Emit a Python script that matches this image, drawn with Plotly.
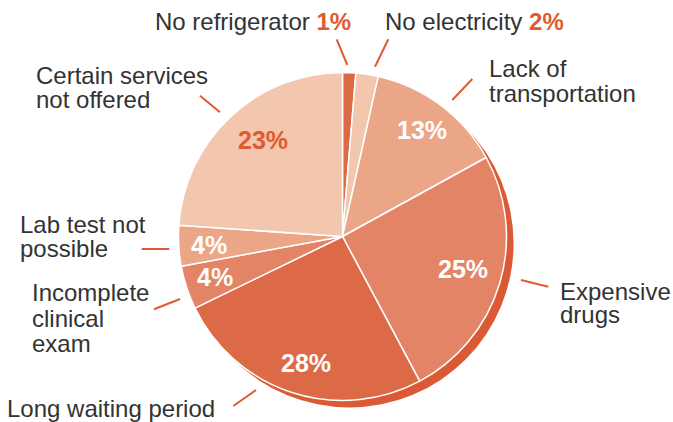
import math
import plotly.graph_objects as go

# ---------------- data ----------------
categories = ["No refrigerator", "No electricity", "Lack of transportation",
              "Expensive drugs", "Long waiting period", "Incomplete clinical exam",
              "Lab test not possible", "Certain services not offered"]
# slice shares as drawn in the picture (angles measured)
slice_share = [1.3, 2.2, 13.5, 25.2, 25.6, 4.3, 4.0, 23.9]
# printed percentages
pct_labels = ["1%", "2%", "13%", "25%", "28%", "4%", "4%", "23%"]

# ---------------- style ----------------
W, H = 673, 422
CX, CY, R = 342.5, 236.5, 164
SHADOW_DX, SHADOW_DY = 7, 7
slice_colors = ["#dd6a46", "#f3c6ae", "#eba587", "#e38467",
                "#dd6a46", "#e38467", "#eba587", "#f3c6ae"]
shadow_color = "#db5a35"
accent = "#e05a32"
text_color = "#333333"
FONT = "Liberation Sans, Arial, Helvetica, sans-serif"
inside_style = {  # index: (text colour, radial fraction, angle tweak in degrees)
    2: ("white", 0.81, 0), 3: ("white", 0.76, -1.5), 4: ("white", 0.80, -2),
    5: ("white", 0.815, 0.5), 6: ("white", 0.815, -0.4), 7: (accent, 0.76, 3.5),
}


def px(x):
    return x / W


def py(y):
    return 1 - y / H


def domain(dx=0, dy=0):
    return dict(x=[px(CX - R + dx), px(CX + R + dx)],
                y=[py(CY + R + dy), py(CY - R + dy)])


fig = go.Figure()
# offset shadow disc
fig.add_trace(go.Pie(values=[1], labels=["shadow"], marker=dict(colors=[shadow_color], line=dict(width=0)),
                     textinfo="none", hoverinfo="skip", sort=False, showlegend=False,
                     domain=domain(SHADOW_DX, SHADOW_DY)))
# main pie
fig.add_trace(go.Pie(values=slice_share, labels=categories, sort=False, direction="clockwise",
                     rotation=0, marker=dict(colors=slice_colors, line=dict(color="white", width=1.5)),
                     textinfo="none", showlegend=False, domain=domain()))

annotations = []
# percent labels inside slices, positioned at slice mid-angles
cum = 0
for i, s in enumerate(slice_share):
    mid_deg = (cum + s / 2) / 100 * 360
    cum += s
    if i not in inside_style:
        continue
    col, frac, tweak = inside_style[i]
    a = math.radians(mid_deg + tweak)
    x = CX + R * frac * math.sin(a)
    y = CY - R * frac * math.cos(a)
    annotations.append(dict(x=px(x), y=py(y), xref="paper", yref="paper", text=f"<b>{pct_labels[i]}</b>",
                            showarrow=False, xanchor="center", yanchor="middle",
                            font=dict(family=FONT, size=25, color=col)))

# outside category labels: (lines, left x, baselines)
outside = [
    ([f"No refrigerator <b><span style='color:{accent}'>{pct_labels[0]}</span></b>"], 155, [29.3]),
    ([f"No electricity <b><span style='color:{accent}'>{pct_labels[1]}</span></b>"], 385, [29.3]),
    (["Lack of", "transportation"], 489, [76, 101.7]),
    (["Expensive", "drugs"], 560, [299, 322]),
    (["Long waiting period"], 7, [416.7]),
    (["Incomplete", "clinical", "exam"], 31.5, [300.7, 326.5, 351.7]),
    (["Lab test not", "possible"], 20, [232.3, 256.7]),
    (["Certain services", "not offered"], 36, [83.3, 107.3]),
]
for lines, x, bls in outside:
    for t, b in zip(lines, bls):
        annotations.append(dict(x=px(x - 2), y=py(b - 8), xref="paper", yref="paper", text=t,
                                showarrow=False, xanchor="left", yanchor="middle",
                                font=dict(family=FONT, size=24, color=text_color)))

leaders = [((336.7, 39.3), (347.3, 65)), ((388.3, 39.3), (375, 66.7)),
           ((472.3, 79), (452.3, 100)), ((521, 280), (548.3, 286.7)),
           ((233.3, 406), (256, 390)), ((154, 309.3), (180, 299)),
           ((141.7, 249), (169.3, 249)), ((200, 95.7), (220, 112.3))]
shapes = [dict(type="line", xref="paper", yref="paper", x0=px(a[0]), y0=py(a[1]), x1=px(b[0]), y1=py(b[1]),
               line=dict(color=accent, width=2)) for a, b in leaders]

fig.update_layout(width=W, height=H, margin=dict(l=0, r=0, t=0, b=0),
                  paper_bgcolor="white", plot_bgcolor="white",
                  annotations=annotations, shapes=shapes, showlegend=False)
fig.write_html("out.html")
